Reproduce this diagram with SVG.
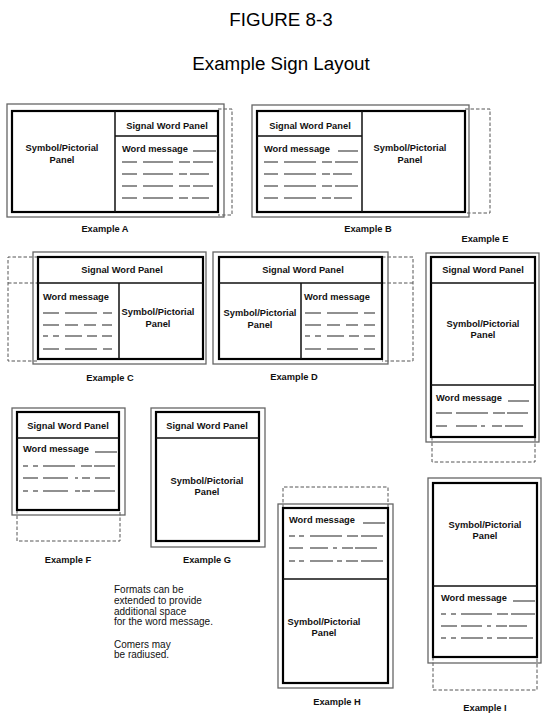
<svg xmlns="http://www.w3.org/2000/svg" width="552" height="726" viewBox="0 0 552 726">
<style>
text{font-family:"Liberation Sans",Arial,sans-serif;fill:#111}
.t{font-size:18.8px;text-anchor:middle;fill:#000}
.l{font-size:9.3px;font-weight:bold}
.c{text-anchor:middle}
.n{font-size:10px}
.o{fill:none;stroke:#666;stroke-width:1.3}
.i{fill:none;stroke:#000;stroke-width:2.2}
.d{fill:none;stroke:#111;stroke-width:1.5}
.x{fill:none;stroke:#555;stroke-width:1;stroke-dasharray:3.5 2}
.w{fill:none;stroke:#222;stroke-width:1.2}
</style>
<rect width="552" height="726" fill="#fff"/>
<g id="title">
<text class="t" x="281" y="26">FIGURE 8-3</text>
<text class="t" x="281" y="70">Example Sign Layout</text>
</g>

<g id="example-a">
<path class="x" d="M218,109H232V215H218"/>
<rect class="o" x="7" y="104" width="217" height="113"/>
<rect class="i" x="12" y="111" width="206" height="101"/>
<path class="d" d="M115,111V212M115,136H218"/>
<text class="l c" x="167" y="128.5">Signal Word Panel</text>
<text class="l c" x="62" y="150.5">Symbol/Pictorial</text>
<text class="l c" x="62" y="162.5">Panel</text>
<text class="l" x="122" y="151.5">Word message</text>
<path class="w" d="M193,151H216M122,162H137M143,162H173M179,162H190M193,162H213M122,174H137M143,174H173M179,174H187M190,174H209M122,186H137M143,186H173M179,186H190M193,186H213M122,198H137M143,198H173M179,198H188M192,198H209"/>
<text class="l c" x="105" y="231.5">Example A</text>
</g>

<g id="example-b">
<path class="x" d="M465,109H490V213H465"/>
<rect class="o" x="252" y="105" width="217" height="112"/>
<rect class="i" x="257" y="111" width="208" height="101"/>
<path class="d" d="M362,111V212M257,136H362"/>
<text class="l c" x="310" y="128.5">Signal Word Panel</text>
<text class="l c" x="410" y="150.5">Symbol/Pictorial</text>
<text class="l c" x="410" y="162.5">Panel</text>
<text class="l" x="264" y="151.5">Word message</text>
<path class="w" d="M338,151H358M264,162H278M284,162H316M322,162H332M335,162H358M264,174H278M284,174H316M322,174H330M333,174H352M264,186H278M284,186H316M322,186H332M335,186H358M264,198H278M284,198H316M322,198H331M334,198H352"/>
<text class="l c" x="368" y="231.5">Example B</text>
</g>

<g id="example-c">
<path class="x" d="M38,257H8V361H38M8,283H38"/>
<rect class="o" x="33" y="252" width="173" height="112"/>
<rect class="i" x="38" y="257" width="165" height="102"/>
<path class="d" d="M38,283H203M119,283V359"/>
<text class="l c" x="122" y="273.3">Signal Word Panel</text>
<text class="l" x="43" y="300.3">Word message</text>
<text class="l c" x="158" y="315.3">Symbol/Pictorial</text>
<text class="l c" x="158" y="327.3">Panel</text>
<path class="w" d="M43,313H59M65,313H97M103,313H112M43,325H59M65,325H78M84,325H96M102,325H112M43,336H48M53,336H59M65,336H82M87,336H97M102,336H112M43,349H59M65,349H97M103,349H112"/>
<text class="l c" x="110" y="381.3">Example C</text>
</g>

<g id="example-d">
<path class="x" d="M382,257H413V361H382M382,283H413"/>
<rect class="o" x="213" y="252" width="175" height="112"/>
<rect class="i" x="219" y="257" width="163" height="102"/>
<path class="d" d="M219,283H382M301,283V359"/>
<text class="l c" x="303" y="273.3">Signal Word Panel</text>
<text class="l c" x="260" y="316.3">Symbol/Pictorial</text>
<text class="l c" x="260" y="328.3">Panel</text>
<text class="l" x="304" y="300.3">Word message</text>
<path class="w" d="M305,313H321M327,313H358M364,313H375M305,325H321M327,325H340M346,325H358M364,325H375M305,336H310M315,336H321M327,336H344M349,336H359M364,336H375M305,349H321M327,349H358M364,349H375"/>
<text class="l c" x="294" y="380.3">Example D</text>
</g>

<g id="example-e">
<text class="l c" x="485" y="242">Example E</text>
<path class="x" d="M432,437V462H535V437"/>
<rect class="o" x="426" y="253" width="113" height="189"/>
<rect class="i" x="431" y="257" width="104" height="180"/>
<path class="d" d="M431,283H535M431,385H535"/>
<text class="l c" x="483" y="273.3">Signal Word Panel</text>
<text class="l c" x="483" y="327.3">Symbol/Pictorial</text>
<text class="l c" x="483" y="338.3">Panel</text>
<text class="l" x="436" y="401.3">Word message</text>
<path class="w" d="M508,401H529M436,413H452M456,413H488M493,413H505M507,413H528M436,426H447M456,426H477M481,426H485M492,426H502M505,426H523"/>
</g>

<g id="example-f">
<path class="x" d="M17,510V541H120V510"/>
<rect class="o" x="12" y="408" width="113" height="107"/>
<rect class="i" x="17" y="412" width="102" height="98"/>
<path class="d" d="M17,438H119"/>
<text class="l c" x="68" y="429.3">Signal Word Panel</text>
<text class="l" x="23" y="452.3">Word message</text>
<path class="w" d="M95,452H117M23,466H28M33,466H38M43,466H75M81,466H92M94,466H115M23,478H38M43,478H68M75,478H78M82,478H90M95,478H110M23,491H28M33,491H38M43,491H68M75,491H80M82,491H90M94,491H115"/>
<text class="l c" x="68" y="563.3">Example F</text>
</g>

<g id="example-g">
<rect class="o" x="151" y="408" width="114" height="139"/>
<rect class="i" x="156" y="412" width="103" height="129"/>
<path class="d" d="M156,438H259"/>
<text class="l c" x="207" y="429.3">Signal Word Panel</text>
<text class="l c" x="207" y="484.3">Symbol/Pictorial</text>
<text class="l c" x="207" y="495.3">Panel</text>
<text class="l c" x="207" y="563.3">Example G</text>
</g>

<g id="example-h">
<path class="x" d="M283,508V487H388V508"/>
<rect class="o" x="278" y="504" width="115" height="184"/>
<rect class="i" x="283" y="508" width="105" height="175"/>
<path class="d" d="M283,579H388"/>
<text class="l" x="289" y="523.3">Word message</text>
<path class="w" d="M363,523H385M289,536H295M299,536H304M310,536H342M347,536H358M361,536H383M289,548H303M310,548H328M333,548H337M342,548H353M355,548H377M289,561H295M299,561H304M310,561H333M337,561H342M346,561H358M361,561H383"/>
<text class="l c" x="324" y="625.3">Symbol/Pictorial</text>
<text class="l c" x="324" y="636.3">Panel</text>
<text class="l c" x="337" y="705.3">Example H</text>
</g>

<g id="example-i">
<path class="x" d="M433,657V690H537V657"/>
<rect class="o" x="428" y="478" width="113" height="185"/>
<rect class="i" x="433" y="483" width="104" height="174"/>
<path class="d" d="M433,586H537"/>
<text class="l c" x="485" y="528.3">Symbol/Pictorial</text>
<text class="l c" x="485" y="539.3">Panel</text>
<text class="l" x="441" y="601.3">Word message</text>
<path class="w" d="M513,601H535M441,614H446M451,614H456M461,614H492M497,614H508M511,614H535M441,626H457M461,626H482M487,626H491M496,626H507M509,626H527M441,638H446M451,638H456M461,638H483M487,638H492M497,638H507M509,638H533"/>
<text class="l c" x="485" y="711">Example I</text>
</g>

<g id="note">
<text class="n" x="114" y="593.3">Formats can be</text>
<text class="n" x="114" y="604.3">extended to provide</text>
<text class="n" x="114" y="614.6">additional space</text>
<text class="n" x="114" y="625.3">for the word message.</text>
<text class="n" x="114" y="647.7">Comers may</text>
<text class="n" x="114" y="658.3">be radiused.</text>
</g>
</svg>
